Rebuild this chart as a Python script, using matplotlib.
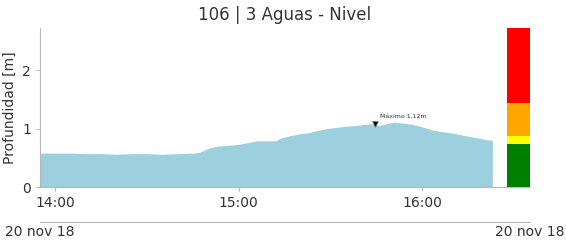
import matplotlib
matplotlib.use("Agg")
import matplotlib.pyplot as plt
import matplotlib.dates as mdates
import pandas as pd

# water level readings, 20 nov 2018
times = ["13:55", "14:00", "14:05", "14:10", "14:15", "14:20", "14:25", "14:30",
         "14:35", "14:40", "14:45", "14:47", "14:50", "14:53", "14:56", "15:00",
         "15:03", "15:06", "15:09", "15:12", "15:14", "15:17", "15:20", "15:23",
         "15:26", "15:29", "15:32", "15:35", "15:38", "15:41", "15:44", "15:46",
         "15:49", "15:51", "15:54", "15:57", "16:00", "16:03", "16:06", "16:09",
         "16:12", "16:15", "16:18", "16:21", "16:23"]
levels = [0.58, 0.58, 0.58, 0.57, 0.57, 0.56, 0.57, 0.57,
          0.56, 0.57, 0.58, 0.59, 0.66, 0.70, 0.71, 0.73,
          0.76, 0.79, 0.79, 0.79, 0.84, 0.88, 0.91, 0.93,
          0.97, 1.00, 1.02, 1.04, 1.05, 1.07, 1.08, 1.05,
          1.09, 1.11, 1.09, 1.07, 1.03, 0.98, 0.95, 0.93,
          0.90, 0.87, 0.84, 0.81, 0.80]

max_time = "15:44:40"
max_value = 1.12

# alert thresholds bar
alert_bottoms = [0.0, 0.74, 0.87, 1.44]
alert_heights = [0.74, 0.13, 0.57, 1.28]
alert_colors = ["green", "yellow", "orange", "red"]

day = "2018-11-20 "
t = pd.to_datetime([day + s for s in times])
t_max = pd.Timestamp(day + max_time)
x_start = pd.Timestamp(day + "13:55")
x_end = pd.Timestamp(day + "16:35:20")
bar_start = pd.Timestamp(day + "16:27:50")

fig = plt.figure(figsize=(5.66, 2.41), dpi=100)
ax = fig.add_axes([0.0707, 0.224, 0.8657, 0.66])

ax.fill_between(t, 0, levels, color="#9dd0de", lw=0)
ax.plot([t_max], [max_value - 0.04], marker="v", color="black", markersize=4,
        markeredgecolor="#888888", markeredgewidth=0.5)
ax.text(t_max + pd.Timedelta(minutes=1.5), max_value + 0.06, "Máximo %.2fm" % max_value,
        fontsize=4.5, color="#333333")

bar_w = (x_end - bar_start) / pd.Timedelta(days=1)
ax.bar([bar_start] * 4, alert_heights, bottom=alert_bottoms, width=bar_w,
       align="edge", color=alert_colors, lw=0)

ax.set_xlim(x_start, x_end)
ax.set_ylim(0, 2.72)
ax.set_yticks([0, 1, 2])
ax.xaxis.set_major_locator(mdates.HourLocator())
ax.xaxis.set_major_formatter(mdates.DateFormatter("%H:%M"))
ax.set_ylabel("Profundidad [m]", fontsize=10, color="#333333")
ax.set_title("106 | 3 Aguas - Nivel", fontsize=12, color="#333333", pad=6)

for s in ["top", "right"]:
    ax.spines[s].set_visible(False)
for s in ["left", "bottom"]:
    ax.spines[s].set_color("#b8b8b8")
ax.tick_params(colors="#b8b8b8", labelcolor="#333333", labelsize=10, length=3)

# date axis below
ax2 = ax.twiny()
ax2.set_xlim(x_start, x_end)
for s in ["top", "right", "left"]:
    ax2.spines[s].set_visible(False)
ax2.spines["bottom"].set_position(("outward", 25))
ax2.spines["bottom"].set_color("#b8b8b8")
ax2.xaxis.set_ticks_position("bottom")
ax2.xaxis.set_label_position("bottom")
ax2.set_xticks([x_start, x_end])
ax2.set_xticklabels(["20 nov 18", "20 nov 18"])
ax2.tick_params(length=0, labelsize=10, labelcolor="#333333", pad=2)

fig.savefig("out.png", dpi=100)
